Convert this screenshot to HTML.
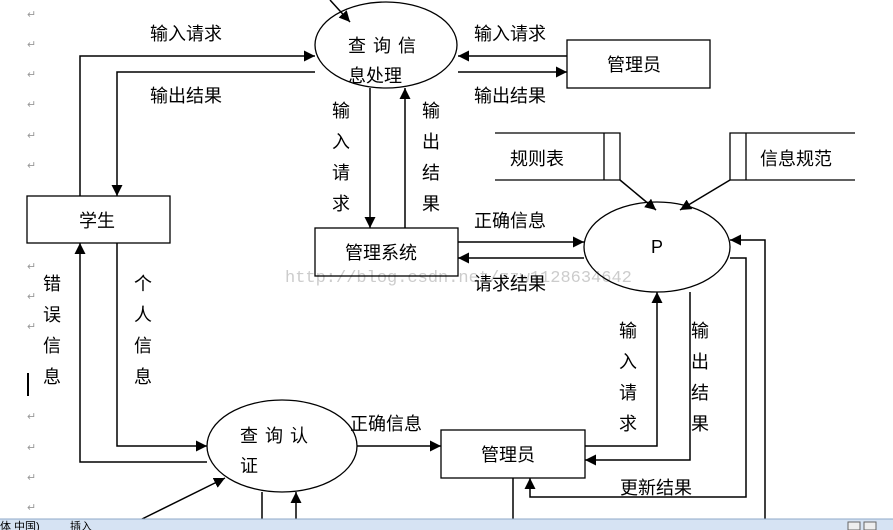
<!DOCTYPE html>
<html><head><meta charset="utf-8"><style>
html,body{margin:0;padding:0;background:#fff;}
svg{display:block;font-family:"Liberation Sans","Noto Sans CJK SC",sans-serif;}
</style></head><body>
<svg width="893" height="530" viewBox="0 0 893 530" xmlns="http://www.w3.org/2000/svg">
<defs>
<marker id="a" viewBox="0 0 10 10" refX="10" refY="5" markerWidth="11" markerHeight="11" markerUnits="userSpaceOnUse" orient="auto"><path d="M0,0L10,5L0,10z" fill="#000"/></marker>
</defs>
<rect width="893" height="530" fill="#fff"/>
<!-- return marks -->
<g fill="#999" font-size="11">
<text x="27" y="18">↵</text><text x="27" y="48">↵</text><text x="27" y="78">↵</text><text x="27" y="108">↵</text>
<text x="27" y="139">↵</text><text x="27" y="169">↵</text><text x="27" y="270">↵</text><text x="27" y="300">↵</text>
<text x="27" y="330">↵</text><text x="27" y="420">↵</text><text x="27" y="451">↵</text><text x="27" y="481">↵</text><text x="27" y="511">↵</text>
</g>
<line x1="28" y1="373" x2="28" y2="396" stroke="#000" stroke-width="2"/>
<!-- watermark -->
<text x="285" y="282" font-family="Liberation Mono,monospace" font-size="17" fill="#ccc">http://blog.csdn.net/zzw1128634642</text>
<g fill="none" stroke="#000" stroke-width="1.3">
<ellipse cx="386" cy="45" rx="71" ry="43"/>
<ellipse cx="657" cy="247" rx="73" ry="45"/>
<ellipse cx="282" cy="446" rx="75" ry="46"/>
<rect x="567" y="40" width="143" height="48"/>
<rect x="27" y="196" width="143" height="47"/>
<rect x="315" y="228" width="143" height="48"/>
<rect x="441" y="430" width="144" height="48"/>
<!-- stores -->
<path d="M495,133H620V180H495M604,133V180"/>
<path d="M855,133H730V180H855M746,133V180"/>
</g>
<g fill="none" stroke="#000" stroke-width="1.5">
<line x1="330" y1="0" x2="350" y2="22" marker-end="url(#a)"/>
<path d="M80,196V56H315" marker-end="url(#a)"/>
<path d="M315,72H117V196" marker-end="url(#a)"/>
<line x1="567" y1="56" x2="458" y2="56" marker-end="url(#a)"/>
<line x1="458" y1="72" x2="567" y2="72" marker-end="url(#a)"/>
<line x1="370" y1="88" x2="370" y2="228" marker-end="url(#a)"/>
<line x1="405" y1="228" x2="405" y2="88" marker-end="url(#a)"/>
<line x1="458" y1="242" x2="584" y2="242" marker-end="url(#a)"/>
<line x1="584" y1="258" x2="458" y2="258" marker-end="url(#a)"/>
<line x1="620" y1="180" x2="656" y2="210" marker-end="url(#a)"/>
<line x1="730" y1="180" x2="680" y2="210" marker-end="url(#a)"/>
<path d="M765,530V240H730" marker-end="url(#a)"/>
<path d="M730,258H746V497H530V478" marker-end="url(#a)"/>
<path d="M585,446H657V292" marker-end="url(#a)"/>
<path d="M690,292V460H585" marker-end="url(#a)"/>
<path d="M207,462H80V243" marker-end="url(#a)"/>
<path d="M117,243V446H207" marker-end="url(#a)"/>
<line x1="357" y1="446" x2="441" y2="446" marker-end="url(#a)"/>
<line x1="140" y1="520" x2="225" y2="478" marker-end="url(#a)"/>
<line x1="262" y1="492" x2="262" y2="530"/>
<line x1="296" y1="530" x2="296" y2="492" marker-end="url(#a)"/>
<line x1="513" y1="478" x2="513" y2="530"/>
</g>
<g font-size="18" fill="#000">
<text x="150" y="40">输入请求</text>
<text x="150" y="102">输出结果</text>
<text x="348" y="52" letter-spacing="7">查询信</text>
<text x="348" y="82">息处理</text>
<text x="474" y="40">输入请求</text>
<text x="474" y="102">输出结果</text>
<text x="607" y="71">管理员</text>
<text x="79" y="227">学生</text>
<text x="345" y="259">管理系统</text>
<text x="651" y="253">P</text>
<text x="510" y="165">规则表</text>
<text x="760" y="165">信息规范</text>
<text x="474" y="227">正确信息</text>
<text x="474" y="290">请求结果</text>
<text x="350" y="430">正确信息</text>
<text x="481" y="461">管理员</text>
<text x="620" y="494">更新结果</text>
<text x="240" y="442" letter-spacing="7">查询认</text>
<text x="240" y="472">证</text>
</g>
<g font-size="18" fill="#000" text-anchor="middle">
<text x="341" y="117">输</text><text x="341" y="148">入</text><text x="341" y="179">请</text><text x="341" y="210">求</text>
<text x="431" y="117">输</text><text x="431" y="148">出</text><text x="431" y="179">结</text><text x="431" y="210">果</text>
<text x="52" y="290">错</text><text x="52" y="321">误</text><text x="52" y="352">信</text><text x="52" y="383">息</text>
<text x="143" y="290">个</text><text x="143" y="321">人</text><text x="143" y="352">信</text><text x="143" y="383">息</text>
<text x="628" y="337">输</text><text x="628" y="368">入</text><text x="628" y="399">请</text><text x="628" y="430">求</text>
<text x="700" y="337">输</text><text x="700" y="368">出</text><text x="700" y="399">结</text><text x="700" y="430">果</text>
</g>
<!-- status bar -->
<rect x="0" y="519" width="893" height="11" fill="#d6e3f3"/>
<line x1="0" y1="519" x2="893" y2="519" stroke="#8fa8c8"/>
<text x="0" y="530" font-size="11" fill="#000">体 中国)</text>
<text x="70" y="530" font-size="11" fill="#000">插入</text>
<rect x="848" y="522" width="12" height="8" fill="#eee" stroke="#666"/>
<rect x="864" y="522" width="12" height="8" fill="#eee" stroke="#666"/>
</svg>
</body></html>
